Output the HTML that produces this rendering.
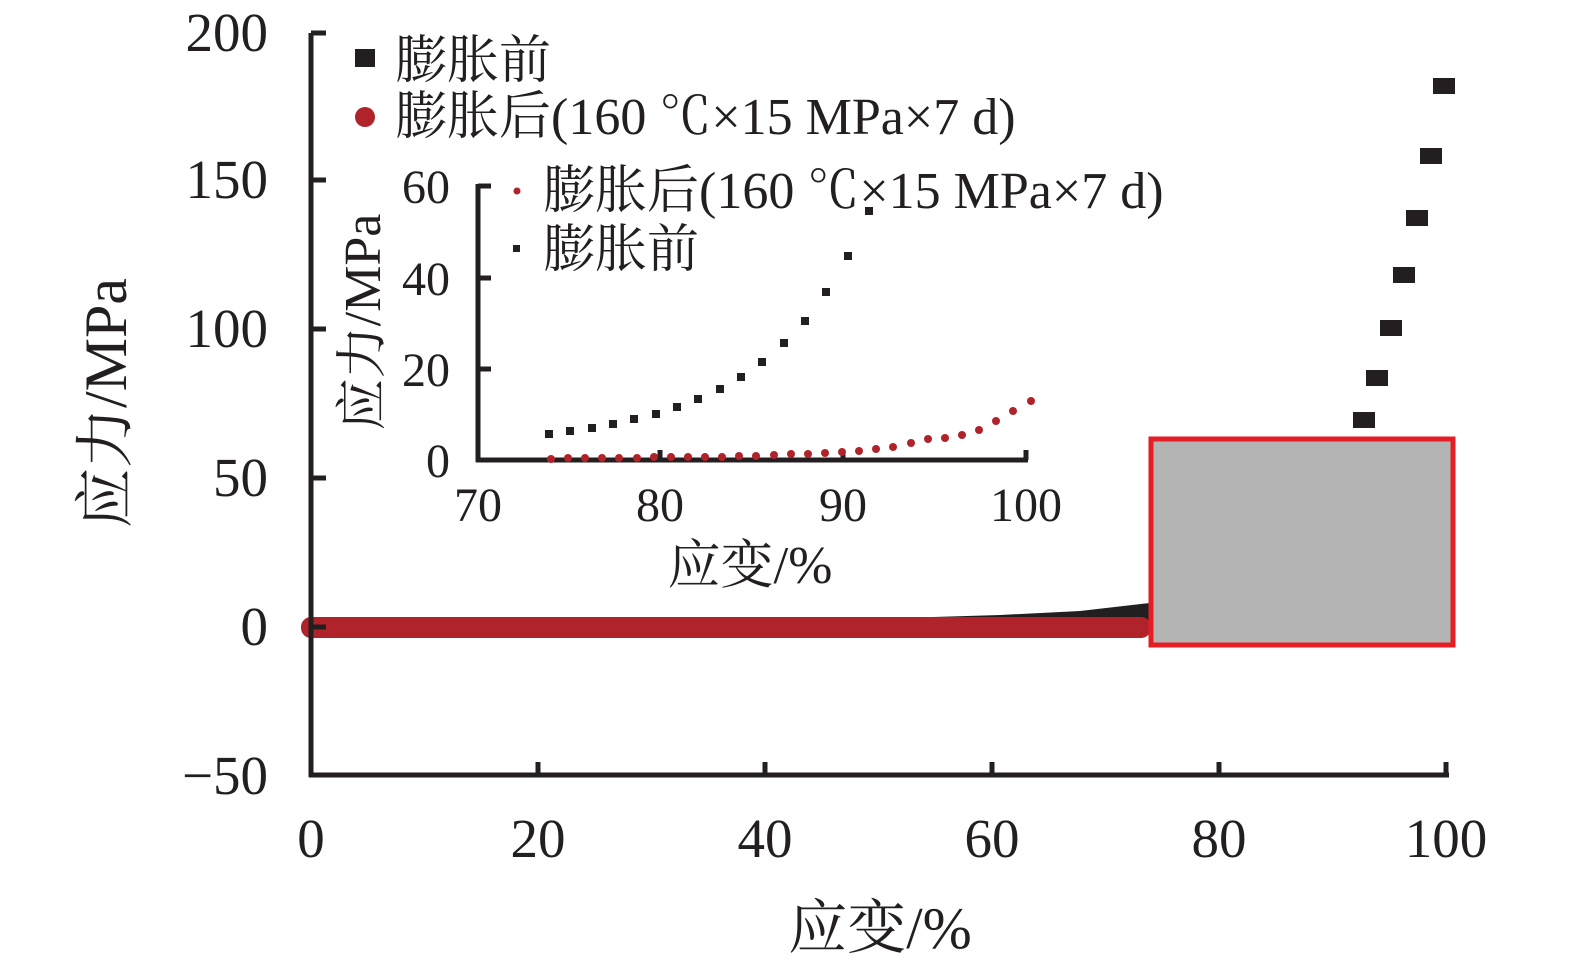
<!DOCTYPE html>
<html><head><meta charset="utf-8"><style>
html,body{margin:0;padding:0;background:#fff;}
svg{display:block;}
text{font-family:"Liberation Serif","Noto Serif CJK SC",serif;fill:#231f20;}
</style></head><body>
<svg width="1575" height="970" viewBox="0 0 1575 970">
<path d="M311,622 L700,620 L900,618 L1000,615 L1080,611 L1150,603 L1150,630 L311,630 Z" fill="#231f20"/>
<rect x="301" y="617" width="850" height="21" rx="10" fill="#b1232b"/>
<g stroke="#231f20" stroke-width="5" fill="none">
<path d="M311,33 V777 M309,775 H1449"/>
<path d="M311,33 H326 M311,180 H326 M311,329 H326 M311,478 H326 M311,627 H326"/>
<path d="M538,775 V762 M765,775 V762 M992,775 V762 M1219,775 V762 M1446,775 V762"/>
</g>
<g font-size="55" text-anchor="end">
<text x="268" y="51">200</text><text x="268" y="198">150</text><text x="268" y="347">100</text>
<text x="268" y="496">50</text><text x="268" y="645">0</text><text x="268" y="794">−50</text>
</g>
<g font-size="55" text-anchor="middle">
<text x="311" y="857">0</text><text x="538" y="857">20</text><text x="765" y="857">40</text>
<text x="992" y="857">60</text><text x="1219" y="857">80</text><text x="1446" y="857">100</text>
</g>
<text x="880" y="948" font-size="59" text-anchor="middle">应变/%</text>
<text transform="translate(126,403) rotate(-90)" font-size="60" text-anchor="middle">应力/MPa</text>
<rect x="355" y="49" width="20" height="18" fill="#231f20"/>
<text x="395" y="78" font-size="52">膨胀前</text>
<circle cx="365" cy="117" r="10" fill="#b1232b"/>
<text x="395" y="134" font-size="52">膨胀后(160 ℃×15 MPa×7 d)</text>
<g fill="#231f20">
<rect x="1353" y="412" width="22" height="16"/><rect x="1366" y="370" width="22" height="16"/>
<rect x="1380" y="320" width="22" height="16"/><rect x="1393" y="267" width="22" height="16"/>
<rect x="1406" y="210" width="22" height="16"/><rect x="1420" y="148" width="22" height="16"/>
<rect x="1433" y="78" width="22" height="16"/>
</g>
<rect x="1151" y="439" width="302" height="206" fill="#b4b4b4" stroke="#e31e24" stroke-width="5"/>
<g stroke="#231f20" stroke-width="5" fill="none">
<path d="M478,184 V462 M476,460 H1028"/>
<path d="M478,186 H491 M478,278 H491 M478,369 H491"/>
<path d="M660,460 V450 M843,460 V450 M1026,460 V450"/>
</g>
<g font-size="48" text-anchor="end">
<text x="450" y="203">60</text><text x="450" y="295">40</text><text x="450" y="386">20</text><text x="450" y="477">0</text>
</g>
<g font-size="48" text-anchor="middle">
<text x="478" y="521">70</text><text x="660" y="521">80</text><text x="843" y="521">90</text><text x="1026" y="521">100</text>
</g>
<text x="750" y="583" font-size="53" text-anchor="middle">应变/%</text>
<text transform="translate(380,322) rotate(-90)" font-size="52" text-anchor="middle">应力/MPa</text>
<circle cx="517" cy="191" r="3.5" fill="#b1232b"/>
<text x="543" y="208" font-size="52">膨胀后(160 ℃×15 MPa×7 d)</text>
<rect x="513" y="245" width="7" height="7" fill="#231f20"/>
<text x="543" y="267" font-size="52">膨胀前</text>
<g fill="#231f20">
<rect x="545" y="430" width="8" height="8"/><rect x="566" y="427" width="8" height="8"/>
<rect x="588" y="424" width="8" height="8"/><rect x="609" y="420" width="8" height="8"/>
<rect x="630" y="415" width="8" height="8"/><rect x="652" y="410" width="8" height="8"/>
<rect x="673" y="403" width="8" height="8"/><rect x="694" y="395" width="8" height="8"/>
<rect x="716" y="385" width="8" height="8"/><rect x="737" y="373" width="8" height="8"/>
<rect x="758" y="358" width="8" height="8"/><rect x="780" y="339" width="8" height="8"/>
<rect x="801" y="317" width="8" height="8"/><rect x="822" y="288" width="8" height="8"/>
<rect x="844" y="252" width="8" height="8"/><rect x="865" y="207" width="8" height="8"/>
</g>
<g fill="#b1232b">
<circle cx="551" cy="459" r="4"/><circle cx="568" cy="458" r="4"/><circle cx="585" cy="458" r="4"/>
<circle cx="602" cy="458" r="4"/><circle cx="619" cy="458" r="4"/><circle cx="637" cy="458" r="4"/>
<circle cx="654" cy="457" r="4"/><circle cx="671" cy="457" r="4"/><circle cx="688" cy="457" r="4"/>
<circle cx="705" cy="457" r="4"/><circle cx="722" cy="457" r="4"/><circle cx="739" cy="456" r="4"/>
<circle cx="756" cy="456" r="4"/><circle cx="774" cy="455" r="4"/><circle cx="791" cy="454" r="4"/>
<circle cx="808" cy="454" r="4"/><circle cx="825" cy="453" r="4"/><circle cx="842" cy="452" r="4"/>
<circle cx="859" cy="451" r="4"/><circle cx="876" cy="449" r="4"/><circle cx="893" cy="447" r="4"/>
<circle cx="911" cy="443" r="4"/><circle cx="928" cy="439" r="4"/><circle cx="945" cy="438" r="4"/>
<circle cx="962" cy="435" r="4"/><circle cx="979" cy="430" r="4"/><circle cx="996" cy="421" r="4"/>
<circle cx="1013" cy="411" r="4"/><circle cx="1031" cy="401" r="4"/>
</g>
</svg>
</body></html>
